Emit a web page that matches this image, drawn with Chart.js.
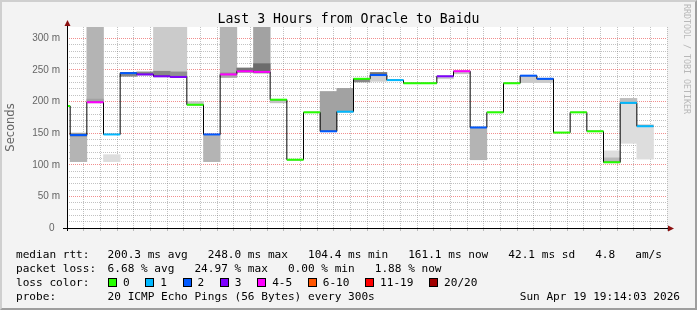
<!DOCTYPE html>
<html>
<head>
<meta charset="utf-8">
<title>Last 3 Hours from Oracle to Baidu</title>
<script src="https://cdn.jsdelivr.net/npm/chart.js@4.4.1/dist/chart.umd.min.js"></script>
<style>
  body { margin: 0; background: #f3f3f3; }
  #wrap { position: relative; width: 697px; height: 310px; background: #f3f3f3; overflow: hidden;
          font-family: "DejaVu Sans Mono", monospace; color: #000; }
  #chart { position: absolute; left: 0; top: 0; }
  #frame { position: absolute; left: 0; top: 0; width: 697px; height: 310px; box-sizing: border-box;
           border: 2px solid; border-color: #cfcfcf #9e9e9e #9e9e9e #cfcfcf; pointer-events: none; }
  #title { position: absolute; left: 0; top: 11px; width: 697px; text-align: center;
           font-size: 13.2px; line-height: 16px; }
  .row { position: absolute; font-size: 11.1px; line-height: 14px; white-space: pre; }
  #mark { position: absolute; left: 683px; top: 4px; font-size: 8.3px; line-height: 8px;
          color: #b8b8b8; writing-mode: vertical-rl; white-space: pre; }
  .item { display: inline-block; margin-right: 15.6px; }
  .box { display: inline-block; width: 7px; height: 7px; border: 1px solid #000;
         vertical-align: -1px; margin-right: 6px; }
</style>
</head>
<body>
<div id="wrap">
  <canvas id="chart" width="697" height="310"></canvas>
  <div id="title">Last 3 Hours from Oracle to Baidu</div>
  <div id="mark">RRDTOOL / TOBI OETIKER</div>
  <div class="row" style="left:16px;top:248px">median rtt:</div>
  <div class="row" style="left:107.6px;top:248px">200.3 ms avg   248.0 ms max   104.4 ms min   161.1 ms now   42.1 ms sd   4.8   am/s</div>
  <div class="row" style="left:16px;top:261.5px">packet loss:</div>
  <div class="row" style="left:107.6px;top:261.5px">6.68 % avg   24.97 % max   0.00 % min   1.88 % now</div>
  <div class="row" style="left:16px;top:275.5px">loss color:</div>
  <div class="row" id="losskey" style="left:108px;top:275.5px"></div>
  <div class="row" style="left:16px;top:289.5px">probe:</div>
  <div class="row" style="left:107.6px;top:289.5px">20 ICMP Echo Pings (56 Bytes) every 300s</div>
  <div class="row" style="right:17px;top:289.5px">Sun Apr 19 19:14:03 2026</div>
  <div id="frame"></div>
</div>
<script>
// 5 minute samples, labelled by the end of each interval
var sampleEnd = ['16:15','16:20','16:25','16:30','16:35','16:40','16:45','16:50','16:55','17:00',
                 '17:05','17:10','17:15','17:20','17:25','17:30','17:35','17:40','17:45','17:50',
                 '17:55','18:00','18:05','18:10','18:15','18:20','18:25','18:30','18:35','18:40',
                 '18:45','18:50','18:55','19:00','19:05','19:10'];
// median rtt in ms
var medianMs = [193,147,199,148,245,243,240,239,195,148,
                243,248,247,203,108,183,153,184,236,242,
                234,229,229,240,248,159,183,229,241,236,
                151,183,153,104,198,161];
// lost pings out of 20
var lossPings = [0,2,5,1,2,3,3,3,0,2,
                 5,4,5,0,0,0,2,1,0,2,
                 1,0,0,3,4,2,0,0,2,2,
                 0,0,0,0,1,1];
// smoke: outer spread of the pings (ms) and how dense it is
var smokeLow  = [null,105,198,105,240,242,239,238,195,105,238,246,245,198,null,null,153,184,231,232,
                 null,null,null,236,244,108,null,null,230,230,null,null,null,103,134,109];
var smokeHigh = [null,150,330,116,246,247,330,330,200,148,330,253,330,203,null,null,216,221,236,246,
                 null,null,null,240,248,160,null,null,241,237,null,null,null,122,205,164];
var smokeDensity = [0,0.5,0.5,0.05,1.0,1.0,0.25,0.25,0.3,0.5,0.5,0.8,0.7,0.35,0,0,0.7,0.7,1.0,0.2,
                    0,0,0,0.2,0.35,0.5,0,0,0.25,0.25,0,0,0,0.05,0.05,0.05];
// smoke: dense core near the median
var innerLow  = [null,145,199,null,null,null,240,239,null,null,240,249,248,null,null,null,null,null,null,242,
                 null,null,null,null,null,null,null,null,null,null,null,null,null,104,198,null];
var innerHigh = [null,150,204,null,null,null,248,247,null,null,246,253,260,null,null,null,null,null,null,246,
                 null,null,null,null,null,null,null,null,null,null,null,null,null,111,205,null];
var innerDensity = [0,0.8,0.7,0,0,0,1.0,0.9,0,0,0.7,1.2,1.3,0,0,0,0,0,0,1.2,
                    0,0,0,0,0,0,0,0,0,0,0,0,0,0.45,0.4,0];

var lossLabels = ['0','1','2','3','4-5','6-10','11-19','20/20'];
var lossColors = ['#26ff00','#00b8ff','#0059ff','#7e00ff','#ff00ff','#ff5500','#ff0000','#a10000'];
var rangeStart = '16:14:03';
var rangeEnd = '19:14:03';
var yMax = 318;

function toMin(t) {
    var p = t.split(':').map(Number);
    return p[0] * 60 + p[1] + (p[2] || 0) / 60;
}
function lossClass(n) {
    if (n <= 3) return n;
    if (n <= 5) return 4;
    if (n <= 10) return 5;
    if (n < 20) return 6;
    return 7;
}
function grey(d) {
    var g = Math.round(225 - 90 * d);
    return 'rgb(' + g + ',' + g + ',' + g + ')';
}
function pad2(n) { return (n < 10 ? '0' : '') + n; }

// legend key
var key = document.getElementById('losskey');
lossLabels.forEach(function (lbl, i) {
    var it = document.createElement('span');
    it.className = 'item';
    it.innerHTML = '<span class="box" style="background:' + lossColors[i] + '"></span>' + lbl;
    key.appendChild(it);
});

var outerData = [], outerColors = [], innerData = [], innerColors = [];
var stepData = [], medData = [];
sampleEnd.forEach(function (t, i) {
    var end = toMin(t), start = end - 5, mid = end - 2.5;
    if (smokeLow[i] !== null) {
        outerData.push({x: mid, y: [smokeLow[i], smokeHigh[i]]});
        outerColors.push(grey(smokeDensity[i]));
    }
    if (innerLow[i] !== null) {
        innerData.push({x: mid, y: [innerLow[i], innerHigh[i]]});
        innerColors.push(grey(innerDensity[i]));
    }
    stepData.push({x: start, y: medianMs[i]});
    medData.push({x: start, y: medianMs[i]}, {x: end, y: medianMs[i]}, {x: end, y: null});
});
stepData.push({x: toMin(sampleEnd[sampleEnd.length - 1]), y: medianMs[medianMs.length - 1]});

var plotBg = {
    id: 'plotBg',
    beforeDraw: function (chart) {
        var a = chart.chartArea, c = chart.ctx;
        c.save();
        c.fillStyle = '#ffffff';
        c.fillRect(a.left, a.top, a.right - a.left, a.bottom - a.top);
        c.restore();
    }
};

var axisArrows = {
    id: 'axisArrows',
    afterDraw: function (chart) {
        var a = chart.chartArea, c = chart.ctx;
        var ax = Math.round(a.left) + 0.5, by = Math.round(a.bottom) + 0.5;
        c.save();
        c.strokeStyle = '#000';
        c.lineWidth = 1;
        c.beginPath();
        c.moveTo(a.left - 4, by); c.lineTo(a.right + 2, by);
        c.moveTo(ax, a.bottom + 3); c.lineTo(ax, a.top - 2);
        c.stroke();
        c.fillStyle = '#8b1010';
        c.beginPath();
        c.moveTo(a.right + 7, by); c.lineTo(a.right + 1, by - 3); c.lineTo(a.right + 1, by + 3);
        c.closePath(); c.fill();
        c.beginPath();
        c.moveTo(ax, a.top - 7); c.lineTo(ax - 3, a.top - 1); c.lineTo(ax + 3, a.top - 1);
        c.closePath(); c.fill();
        c.restore();
    }
};

var majorGrid = 'rgba(230,50,50,0.55)';
var minorGrid = 'rgba(110,110,110,0.42)';

new Chart(document.getElementById('chart'), {
    type: 'bar',
    data: {
        datasets: [
            {
                type: 'line', data: medData, order: 1, clip: 0,
                borderWidth: 2, pointRadius: 0, spanGaps: false, borderCapStyle: 'butt',
                borderColor: lossColors[0],
                segment: {
                    borderColor: function (ctx) {
                        return lossColors[lossClass(lossPings[Math.floor(ctx.p0DataIndex / 3)])];
                    }
                }
            },
            {
                type: 'line', data: stepData, order: 2, clip: 0, stepped: 'before',
                borderColor: '#000', borderWidth: 1, pointRadius: 0
            },
            {
                type: 'bar', data: innerData, order: 3, grouped: false, clip: 0,
                backgroundColor: innerColors, borderWidth: 0,
                barPercentage: 1, categoryPercentage: 1
            },
            {
                type: 'bar', data: outerData, order: 4, grouped: false, clip: 0,
                backgroundColor: outerColors, borderWidth: 0,
                barPercentage: 1, categoryPercentage: 1
            }
        ]
    },
    options: {
        responsive: false,
        animation: false,
        devicePixelRatio: 1,
        layout: { padding: { top: 27, right: 30, bottom: 0, left: 0 } },
        plugins: { legend: { display: false }, tooltip: { enabled: false } },
        scales: {
            x: {
                type: 'linear', min: toMin(rangeStart), max: toMin(rangeEnd),
                offset: false, z: 1,
                afterFit: function (s) { s.height = 82; },
                grid: {
                    offset: false, drawTicks: true, tickLength: 3,
                    color: function (ctx) { return ctx.tick.value % 20 === 0 ? majorGrid : minorGrid; }
                },
                border: { display: false, dash: [1, 1] },
                ticks: {
                    stepSize: 5, includeBounds: false, autoSkip: false, maxRotation: 0, padding: 2,
                    font: { size: 10 },
                    callback: function (v) {
                        if (v % 20 !== 0) return '';
                        return pad2(Math.floor(v / 60)) + ':' + pad2(Math.round(v % 60));
                    }
                }
            },
            y: {
                min: 0, max: yMax, z: 1,
                afterFit: function (s) { s.width = 67; },
                grid: {
                    drawTicks: false,
                    color: function (ctx) {
                        var v = ctx.tick.value;
                        if (v % 10 !== 0) return 'rgba(0,0,0,0)';
                        return v % 50 === 0 ? majorGrid : minorGrid;
                    }
                },
                border: { display: false, dash: [1, 1] },
                title: { display: true, text: 'Seconds', padding: { top: 4, bottom: 0 },
                         font: { family: '"DejaVu Sans", sans-serif', size: 11.5 } },
                ticks: {
                    stepSize: 10, autoSkip: false, padding: 7, font: { size: 10 },
                    callback: function (v) {
                        if (v % 50 !== 0) return '';
                        return v === 0 ? '0  ' : v + ' m';
                    }
                }
            }
        }
    },
    plugins: [plotBg, axisArrows]
});
</script>
</body>
</html>
